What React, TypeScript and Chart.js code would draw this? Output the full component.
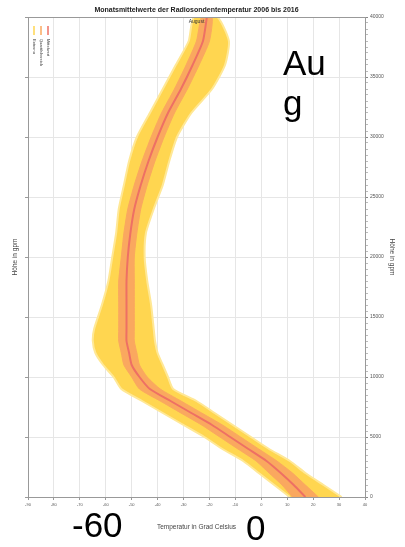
import React, { useEffect, useRef } from 'react';
import { Chart, registerables } from 'chart.js';
Chart.register(...registerables);

const chartTitle = 'Monatsmittelwerte der Radiosondentemperatur 2006 bis 2016';
const monthLabel = 'August';
const xTitle = 'Temperatur in Grad Celsius';
const yTitle = 'Höhe in gpm';
const legendLabels = ['Extrema', 'Quartilsbereich', 'Mittelwert'];
const xMin = -90;
const xMax = 40;
const yMin = 0;
const yMax = 40000;

const heights = [0, 1000, 2000, 3000, 4000, 5000, 6000, 7000, 8000, 9000, 10000, 11000, 12000, 13000, 14000, 16000, 18000, 20000, 22000, 24000, 26000, 28000, 30000, 32000, 34000, 36000, 38000, 40000];
const medianT = [17, 12.5, 7.5, 2, -5, -12, -19, -27, -35, -43, -47, -50, -51, -52, -52, -52, -52, -51.5, -50.5, -49, -46.5, -43.5, -40, -36, -31, -26.5, -22.5, -21];
const minT = [11, 5, -1, -7, -15, -22, -30, -38, -46, -54, -57, -61, -64, -65, -64.5, -61.5, -59, -57.5, -56, -55, -53, -51, -48, -43, -38, -33, -28, -26];
const maxT = [31, 24, 17, 11, 3, -4, -11, -18, -25, -34, -36, -38, -40, -41, -41.5, -42.5, -44, -45, -44.5, -41.5, -38, -35.5, -32.5, -27, -19, -14, -12.5, -17];
const q25T = [12, 8, 3, -2, -9, -16, -23, -31, -39, -47, -50, -53, -54, -55, -55, -55, -55, -54, -53, -51.5, -49, -46, -42.5, -38.5, -33.5, -29, -25, -23];
const q75T = [22, 17, 12, 6, -1, -8, -15, -23, -31, -39, -44, -47, -48, -49, -49, -49, -49, -49, -48, -46.5, -44, -41, -37.5, -33.5, -28.5, -24, -20, -19];

const YELLOW = 'rgb(255,214,80)';
const YELLOW_EDGE = 'rgb(255,232,150)';
const ORANGE = 'rgb(250,168,95)';
const RED = 'rgb(238,112,100)';
const FONT = "'Liberation Sans', Arial, sans-serif";

function band(low: number[], high: number[]) {
  const left = heights.map((h, i) => ({ x: low[i], y: h }));
  const right = heights.map((h, i) => ({ x: high[i], y: h })).reverse();
  return [...left, ...right];
}

const decorPlugin = {
  id: 'decor',
  afterDraw(chart: any) {
    const { ctx, chartArea } = chart;
    const { left, right, top } = chartArea;
    ctx.save();
    ctx.strokeStyle = '#999';
    ctx.lineWidth = 1;
    ctx.beginPath();
    ctx.moveTo(left, top + 0.5);
    ctx.lineTo(right, top + 0.5);
    ctx.stroke();
    ctx.fillStyle = '#333';
    ctx.font = `5px ${FONT}`;
    ctx.textAlign = 'center';
    ctx.textBaseline = 'middle';
    ctx.fillText(monthLabel, (left + right) / 2, top + 5);
    const colors = [YELLOW, ORANGE, RED];
    legendLabels.forEach((lab, i) => {
      const x = left + 6 + i * 7;
      ctx.strokeStyle = colors[i];
      ctx.lineWidth = 1.5;
      ctx.beginPath();
      ctx.moveTo(x, top + 9);
      ctx.lineTo(x, top + 18);
      ctx.stroke();
      ctx.save();
      ctx.translate(x, top + 22);
      ctx.rotate(Math.PI / 2);
      ctx.fillStyle = '#444';
      ctx.font = `4px ${FONT}`;
      ctx.textAlign = 'left';
      ctx.textBaseline = 'middle';
      ctx.fillText(lab, 0, 0);
      ctx.restore();
    });
    ctx.restore();
  },
};

export default function App() {
  const ref = useRef<HTMLCanvasElement>(null);
  useEffect(() => {
    if (!ref.current) return;
    const chart = new Chart(ref.current, {
      type: 'scatter',
      data: {
        datasets: [
          {
            label: legendLabels[2],
            data: heights.map((h, i) => ({ x: medianT[i], y: h })),
            showLine: true,
            borderColor: RED,
            borderWidth: 2,
            pointRadius: 0,
            tension: 0.2,
            fill: false,
          },
          {
            label: legendLabels[1],
            data: band(q25T, q75T),
            showLine: true,
            borderColor: ORANGE,
            backgroundColor: ORANGE,
            borderWidth: 1,
            pointRadius: 0,
            tension: 0.2,
            fill: 'shape',
          },
          {
            label: legendLabels[0],
            data: band(minT, maxT),
            showLine: true,
            borderColor: YELLOW_EDGE,
            backgroundColor: YELLOW,
            borderWidth: 2,
            pointRadius: 0,
            tension: 0.2,
            fill: 'shape',
          },
        ],
      },
      options: {
        animation: false,
        responsive: false,
        layout: { padding: 0 },
        plugins: {
          legend: { display: false },
          tooltip: { enabled: false },
          title: {
            display: true,
            text: chartTitle,
            fullSize: false,
            color: '#222',
            font: { family: FONT, size: 7, weight: 'bold' },
            padding: { top: 6, bottom: 2.6 },
          },
        },
        scales: {
          x: {
            type: 'linear',
            position: 'bottom',
            min: xMin,
            max: xMax,
            afterFit: (s: any) => { s.height = 50; },
            ticks: { stepSize: 10, color: '#555', font: { family: FONT, size: 4 }, padding: 2, maxRotation: 0, autoSkip: false },
            grid: { color: '#e6e6e6', tickColor: '#999', tickLength: 3 },
            border: { display: true, color: '#999' },
            title: { display: true, text: xTitle, color: '#444', font: { family: FONT, size: 6.5 }, padding: { top: 2, bottom: 16 } },
          },
          y: {
            type: 'linear',
            position: 'left',
            min: yMin,
            max: yMax,
            afterFit: (s: any) => { s.width = 28; },
            ticks: { stepSize: 5000, display: false },
            grid: { color: '#e6e6e6', tickColor: '#999', tickLength: 3 },
            border: { display: true, color: '#999' },
            title: { display: true, text: yTitle, color: '#444', font: { family: FONT, size: 6.5 }, padding: { top: 11, bottom: 0 } },
          },
          y2: {
            type: 'linear',
            position: 'right',
            min: yMin,
            max: yMax,
            afterFit: (s: any) => { s.width = 40; },
            ticks: {
              stepSize: 500,
              autoSkip: false,
              color: '#555',
              font: { family: FONT, size: 5 },
              padding: 2,
              callback: (v: any) => (Number(v) % 5000 === 0 ? String(v) : ''),
            },
            grid: {
              drawOnChartArea: false,
              tickColor: (c: any) => (c.tick && c.tick.value % 5000 === 0 ? '#888' : '#bbb'),
              tickLength: 3,
            },
            border: { display: true, color: '#999' },
            title: { display: true, text: yTitle, color: '#444', font: { family: FONT, size: 6.5 }, padding: { top: 9, bottom: 0 } },
          },
        },
      },
      plugins: [decorPlugin],
    } as any);
    return () => chart.destroy();
  }, []);

  const big: React.CSSProperties = {
    position: 'absolute',
    fontFamily: FONT,
    fontSize: 35,
    color: '#000',
    lineHeight: 'normal',
    margin: 0,
  };

  return (
    <div style={{ position: 'absolute', left: 0, top: 0, width: 405, height: 547, background: '#fff' }}>
      <canvas ref={ref} width={405} height={547} style={{ display: 'block' }} />
      <div style={{ ...big, left: 283, top: 43, width: 46, wordBreak: 'break-all' }}>Aug</div>
      <div style={{ ...big, left: 72, top: 505 }}>-60</div>
      <div style={{ ...big, left: 246, top: 508 }}>0</div>
    </div>
  );
}
